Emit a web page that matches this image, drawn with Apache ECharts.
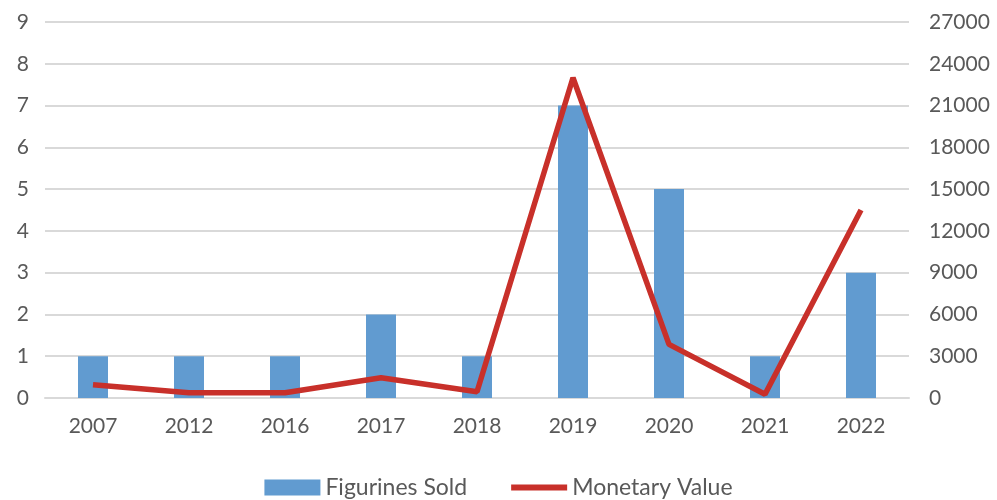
<!DOCTYPE html>
<html>
<head>
<meta charset="utf-8">
<script src="https://cdn.jsdelivr.net/npm/echarts@6/dist/echarts.min.js"></script>
<style>
    html, body { margin: 0; padding: 0; background: #fff; }
    #chart { width: 997px; height: 500px; }
</style>
</head>
<body>
<div id="chart"></div>
<script>
    // data
    const years = ['2007', '2012', '2016', '2017', '2018', '2019', '2020', '2021', '2022']
    const figurinesSold = [1, 1, 1, 2, 1, 7, 5, 1, 3]
    const monetaryValue = [950, 380, 380, 1450, 450, 23000, 3850, 270, 13500]

    const labelFont = { color: '#595959', fontSize: 21, fontFamily: 'Lato' }

    let myChart = echarts.init(document.getElementById('chart'))
    let option = {
        backgroundColor: '#fff',
        animation: false,
        grid: { left: 45, right: 88, top: 22, bottom: 102 },
        legend: {
            bottom: -4,
            left: 'center',
            itemGap: 44,
            itemWidth: 56,
            itemHeight: 16,
            textStyle: { color: '#595959', fontSize: 23, fontFamily: 'Lato' },
            data: [
                { name: 'Figurines Sold', icon: 'rect' },
                // thin line icon, padded with empty points so it keeps the box height
                { name: 'Monetary Value', icon: 'path://M0,0 L0.01,0 M0,5 L56,5 L56,11 L0,11 Z M0,16 L0.01,16' }
            ]
        },
        xAxis: {
            type: 'category',
            data: years,
            axisLine: { lineStyle: { color: '#d9d9d9', width: 2 } },
            axisTick: { show: false },
            axisLabel: Object.assign({ margin: 18 }, labelFont)
        },
        yAxis: [
            {
                type: 'value',
                min: 0, max: 9, interval: 1,
                axisLine: { show: false },
                axisTick: { show: false },
                axisLabel: Object.assign({ margin: 16 }, labelFont),
                splitLine: { lineStyle: { color: '#d9d9d9', width: 2 } }
            },
            {
                type: 'value',
                min: 0, max: 27000, interval: 3000,
                axisLine: { show: false },
                axisTick: { show: false },
                axisLabel: Object.assign({ margin: 20, formatter: v => String(v) }, labelFont),
                splitLine: { show: false }
            }
        ],
        series: [
            {
                name: 'Figurines Sold',
                type: 'bar',
                data: figurinesSold,
                barWidth: 30,
                itemStyle: { color: '#619bd0' }
            },
            {
                name: 'Monetary Value',
                type: 'line',
                yAxisIndex: 1,
                data: monetaryValue,
                symbol: 'none',
                lineStyle: { color: '#c8302a', width: 5.5 },
                itemStyle: { color: '#c8302a' }
            }
        ]
    }
    myChart.setOption(option, true)
</script>
</body>
</html>
